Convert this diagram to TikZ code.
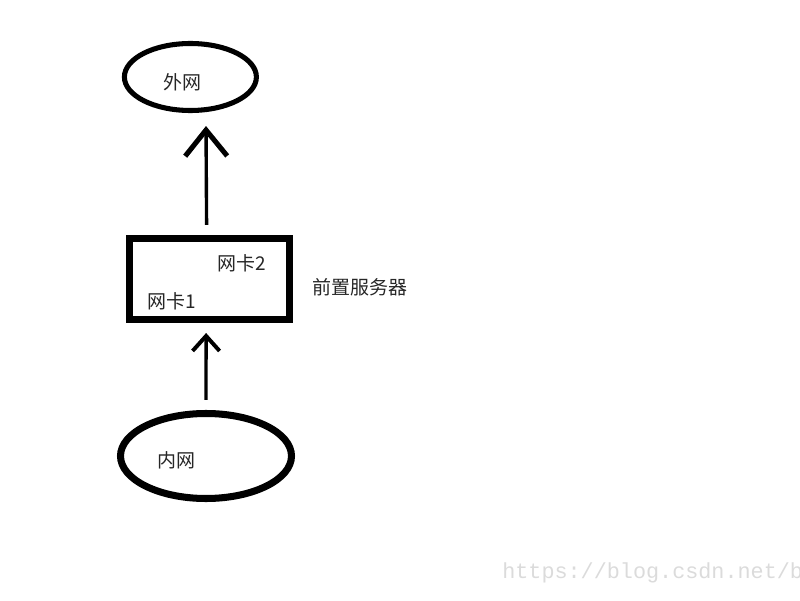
\documentclass[tikz,border=0pt]{standalone}
\usepackage{fontspec}
\newfontfamily\cjk{Noto Sans CJK SC}
\newfontfamily\wmfont{Liberation Mono}
\usetikzlibrary{arrows.meta,shapes.geometric}

\begin{document}
\begin{tikzpicture}[
    net/.style={ellipse,draw,inner sep=0pt},
    host/.style={rectangle,draw,line width=5pt,inner sep=0pt,minimum width=4cm,minimum height=2.025cm},
    txt/.style={text=black!85,font=\cjk\fontsize{13.5}{16}\selectfont},
    link/.style={line width=2.4pt}
]
    \useasboundingbox (0,0) rectangle (20,15);

    % Networks
    \node[net,line width=3.6pt,minimum width=3.3cm,minimum height=1.675cm,
        label={[txt,xshift=-0.21cm,yshift=-0.125cm]center:外网}] (outer) at (4.76,13.075) {};
    \node[net,line width=5pt,minimum width=4.275cm,minimum height=2.125cm,
        label={[txt,xshift=-0.74cm,yshift=-0.1cm]center:内网}] (inner) at (5.15,3.6) {};

    % Server
    \node[host] (server) at (5.24,8.025) {};
    \node[txt] (nic2) at (6.05,8.41) {网卡2};
    \node[txt] (nic1) at (4.3,7.46) {网卡1};
    \node[txt] (name) at (9.01,7.81) {前置服务器};

    % Arcs
    \draw[link,-{Straight Barb[length=0.375cm,width=0.675cm,line width=2.8pt]}] ([yshift=0.25cm]inner.north) -- ([xshift=-0.0875cm,yshift=-0.25cm]server.south);
    \draw[link,-{Straight Barb[length=0.65cm,width=1.05cm,line width=3.6pt]}] ([xshift=-0.075cm,yshift=0.25cm]server.north) -- ([xshift=0.39cm,yshift=-0.325cm]outer.south);

    % Watermark
    \node[anchor=west,inner sep=0pt,text=black!14,font=\wmfont\fontsize{15.5}{18}\selectfont] (mark) at (12.55,0.675) {https://blog.csdn.net/b};
\end{tikzpicture}
\end{document}
